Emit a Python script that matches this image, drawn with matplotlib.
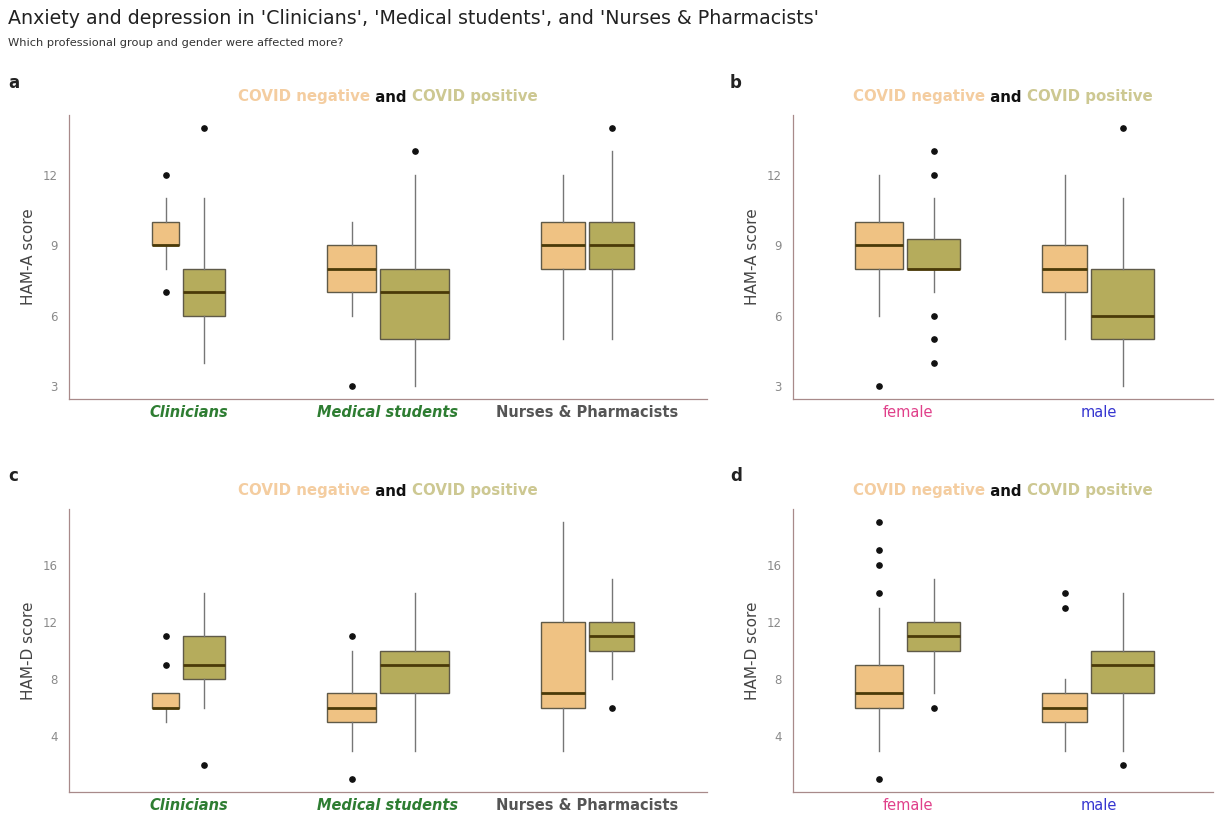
import numpy as np
import matplotlib
matplotlib.use("Agg")
import matplotlib.pyplot as plt

plt.rcParams["font.family"] = ["DejaVu Sans"]

# ---- data ----
groups = ["Clinicians", "Medical students", "Nurses & Pharmacists"]
genders = ["female", "male"]

# order inside each panel: (cat1 neg, cat1 pos, cat2 neg, cat2 pos, ...)
hama_group_q1 = [9, 6, 7, 5, 8, 8]
hama_group_med = [9, 7, 8, 7, 9, 9]
hama_group_q3 = [10, 8, 9, 8, 10, 10]
hama_group_lo = [8, 4, 6, 3, 5, 5]
hama_group_hi = [11, 11, 10, 12, 12, 13]
hama_group_out = [[12, 7], [14], [3], [13], [], [14]]

hama_gender_q1 = [8, 8, 7, 5]
hama_gender_med = [9, 8, 8, 6]
hama_gender_q3 = [10, 9.25, 9, 8]
hama_gender_lo = [6, 7, 5, 3]
hama_gender_hi = [12, 11, 12, 11]
hama_gender_out = [[3], [13, 12, 6, 5, 4], [], [14]]

hamd_group_q1 = [6, 8, 5, 7, 6, 10]
hamd_group_med = [6, 9, 6, 9, 7, 11]
hamd_group_q3 = [7, 11, 7, 10, 12, 12]
hamd_group_lo = [5, 6, 3, 3, 3, 8]
hamd_group_hi = [7, 14, 10, 14, 19, 15]
hamd_group_out = [[11, 9], [2], [11, 1], [], [], [6]]

hamd_gender_q1 = [6, 10, 5, 7]
hamd_gender_med = [7, 11, 6, 9]
hamd_gender_q3 = [9, 12, 7, 10]
hamd_gender_lo = [3, 7, 3, 3]
hamd_gender_hi = [13, 15, 8, 14]
hamd_gender_out = [[19, 17, 16, 14, 1], [6], [14, 13], [2]]

# ---- styling ----
# box widths (varwidth-like, in category units)
group_widths = [0.134, 0.209, 0.247, 0.346, 0.224, 0.226]
gender_widths = [0.254, 0.278, 0.233, 0.334]
GAP = 0.02

NEG_FILL = "#EFC283"
POS_FILL = "#B5AC5C"
NEG_TXT = "#F4CDA0"
POS_TXT = "#CDC892"
SPINE = "#a88a8a"

group_tick_style = [
    dict(color="#2e7d32", fontweight="bold", fontstyle="italic"),
    dict(color="#2e7d32", fontweight="bold", fontstyle="italic"),
    dict(color="#555555", fontweight="bold", fontstyle="normal"),
]
gender_tick_style = [
    dict(color="#e0408a", fontweight="normal", fontstyle="normal"),
    dict(color="#3535d0", fontweight="normal", fontstyle="normal"),
]

W, H = 1215, 817
fig = plt.figure(figsize=(W / 100, H / 100), dpi=100)


def px_axes(x0, y0, x1, y1):
    return fig.add_axes([x0 / W, 1 - y1 / H, (x1 - x0) / W, (y1 - y0) / H])


def draw_panel(ax, cats, q1, med, q3, lo, hi, out, widths, yticks, ylabel, tick_styles):
    positions = []
    for i in range(len(cats)):
        wn, wp = widths[2 * i], widths[2 * i + 1]
        left = (i + 1) - (wn + GAP + wp) / 2
        positions += [left + wn / 2, left + wn + GAP + wp / 2]
    stats = []
    for k in range(len(q1)):
        stats.append(dict(q1=q1[k], med=med[k], q3=q3[k], whislo=lo[k], whishi=hi[k],
                          fliers=out[k]))
    bp = ax.bxp(stats, positions=positions, widths=widths, patch_artist=True,
                showcaps=False,
                boxprops=dict(edgecolor="#5f5a48", linewidth=1.0),
                medianprops=dict(color="#4a3a08", linewidth=2.0),
                whiskerprops=dict(color="#767676", linewidth=1.0),
                flierprops=dict(marker="o", markersize=3.8, markerfacecolor="#111111",
                                markeredgecolor="#111111"))
    for k, patch in enumerate(bp["boxes"]):
        patch.set_facecolor(NEG_FILL if k % 2 == 0 else POS_FILL)

    allv = lo + hi + [v for o in out for v in o]
    vmin, vmax = min(allv), max(allv)
    pad = 0.05 * (vmax - vmin)
    ax.set_ylim(vmin - pad, vmax + pad)
    ax.set_xlim(0.4, len(cats) + 0.6)
    ax.set_yticks(yticks)
    ax.set_xticks(range(1, len(cats) + 1))
    ax.set_xticklabels(cats, fontsize=10.5)
    for lab, st in zip(ax.get_xticklabels(), tick_styles):
        lab.set_color(st["color"])
        lab.set_fontweight(st["fontweight"])
        lab.set_fontstyle(st["fontstyle"])
    ax.tick_params(axis="y", length=0, labelsize=8.5, labelcolor="#8a8a8a", pad=8)
    ax.tick_params(axis="x", length=0, pad=4)
    ax.set_ylabel(ylabel, fontsize=11, color="#444444", labelpad=5)
    for s in ["top", "right"]:
        ax.spines[s].set_visible(False)
    for s in ["left", "bottom"]:
        ax.spines[s].set_color(SPINE)
        ax.spines[s].set_linewidth(0.9)


def covid_title(ax, y_px):
    fig.canvas.draw()
    r = fig.canvas.get_renderer()
    parts = [("COVID negative", NEG_TXT), (" and ", "#111111"), ("COVID positive", POS_TXT)]
    texts = [fig.text(0, 0, p, fontsize=10.8, fontweight="bold", color=c) for p, c in parts]
    widths = [t.get_window_extent(r).width for t in texts]
    bb = ax.get_window_extent(r)
    x = (bb.x0 + bb.x1) / 2 - sum(widths) / 2
    for t, w in zip(texts, widths):
        t.set_position((x / W, 1 - y_px / H))
        t.set_va("center")
        x += w


ax_a = px_axes(69, 115, 707, 399)
ax_b = px_axes(793, 115, 1213, 399)
ax_c = px_axes(69, 509, 707, 792)
ax_d = px_axes(793, 509, 1213, 792)

draw_panel(ax_a, groups, hama_group_q1, hama_group_med, hama_group_q3, hama_group_lo,
           hama_group_hi, hama_group_out, group_widths, [3, 6, 9, 12], "HAM-A score",
           group_tick_style)
draw_panel(ax_b, genders, hama_gender_q1, hama_gender_med, hama_gender_q3, hama_gender_lo,
           hama_gender_hi, hama_gender_out, gender_widths, [3, 6, 9, 12], "HAM-A score",
           gender_tick_style)
draw_panel(ax_c, groups, hamd_group_q1, hamd_group_med, hamd_group_q3, hamd_group_lo,
           hamd_group_hi, hamd_group_out, group_widths, [4, 8, 12, 16], "HAM-D score",
           group_tick_style)
draw_panel(ax_d, genders, hamd_gender_q1, hamd_gender_med, hamd_gender_q3, hamd_gender_lo,
           hamd_gender_hi, hamd_gender_out, gender_widths, [4, 8, 12, 16], "HAM-D score",
           gender_tick_style)

for ax, y in [(ax_a, 97), (ax_b, 97), (ax_c, 491), (ax_d, 491)]:
    covid_title(ax, y)

for lab, x, y in [("a", 8, 83), ("b", 730, 83), ("c", 8, 476), ("d", 730, 476)]:
    fig.text(x / W, 1 - y / H, lab, fontsize=12, fontweight="bold", color="#222222",
             va="center")

fig.text(8 / W, 1 - 18 / H,
         "Anxiety and depression in 'Clinicians', 'Medical students', and 'Nurses & Pharmacists'",
         fontsize=13.7, color="#222222", va="center")
fig.text(8 / W, 1 - 43 / H, "Which professional group and gender were affected more?",
         fontsize=8.2, color="#333333", va="center")

fig.savefig("out.png", dpi=100)
